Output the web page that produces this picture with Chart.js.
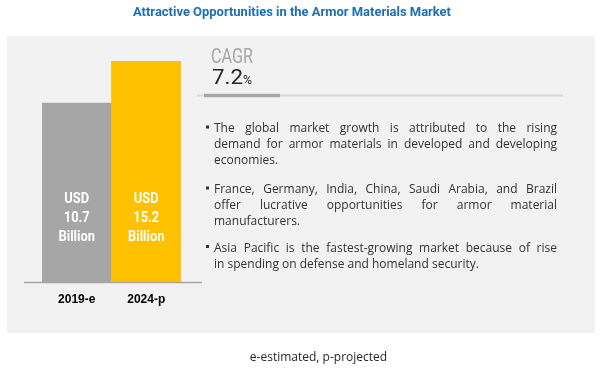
<!DOCTYPE html>
<html><head><meta charset="utf-8">
<script src="https://cdn.jsdelivr.net/npm/chart.js@4.4.0/dist/chart.umd.min.js"></script>
<style>html,body{margin:0;padding:0;background:#fff;}#wrap{width:601px;height:374px;position:relative;}</style>
</head><body><div id="wrap"><canvas id="c" width="601" height="374"></canvas></div>
<script>
// ---- data ----
const categories = ['2019-e', '2024-p'];
const marketValues = [10.7, 15.2];
const valueLabels = [['USD', '10.7', 'Billion'], ['USD', '15.2', 'Billion']];
const barColors = ['#a6a6a6', '#ffc000'];
const titleText = 'Attractive Opportunities in the Armor Materials Market';
const cagrLabel = 'CAGR';
const cagrValue = '7.2';
const cagrUnit = '%';
const bullets = [
  ['The global market growth is attributed to the rising', 'demand for armor materials in developed and developing', 'economies.'],
  ['France, Germany, India, China, Saudi Arabia, and Brazil', 'offer lucrative opportunities for armor material', 'manufacturers.'],
  ['Asia Pacific is the fastest-growing market because of rise', 'in spending on defense and homeland security.']
];
const footnote = 'e-estimated, p-projected';
const axisMin = -8.4;
const axisMax = 15.2;

function condText(ctx, text, x, y, font, color, targetW, align) {
  ctx.save();
  ctx.font = font; ctx.fillStyle = color; ctx.textBaseline = 'alphabetic'; ctx.textAlign = 'left';
  const mw = ctx.measureText(text).width;
  const sx = targetW ? targetW / mw : 1;
  const w = mw * sx;
  const x0 = align === 'center' ? x - w / 2 : (align === 'right' ? x - w : x);
  ctx.translate(x0, y); ctx.scale(sx, 1); ctx.fillText(text, 0, 0);
  ctx.restore();
  return w;
}

function justifyLine(ctx, line, x, y, width, justify) {
  if (!justify) { ctx.fillText(line, x, y); return; }
  const words = line.split(' ');
  const ws = words.map(w => ctx.measureText(w).width);
  const total = ws.reduce((a, b) => a + b, 0);
  const gap = (width - total) / (words.length - 1);
  let cx = x;
  words.forEach((w, i) => { ctx.fillText(w, cx, y); cx += ws[i] + gap; });
}

const decor = {
  id: 'decor',
  beforeDraw(chart) {
    const ctx = chart.ctx;
    ctx.save();
    ctx.fillStyle = '#ffffff'; ctx.fillRect(0, 0, chart.width, chart.height);
    ctx.fillStyle = '#f2f2f2'; ctx.fillRect(7, 36, 588, 297);
    ctx.restore();
    condText(ctx, titleText, 133, 16, 'bold 13px Roboto', '#1b6fb7', 318, 'left');
  },
  afterDatasetsDraw(chart) {
    const ctx = chart.ctx;
    const area = chart.chartArea;
    const meta = chart.getDatasetMeta(0);
    // bar value labels
    meta.data.forEach((bar, i) => {
      valueLabels[i].forEach((t, j) => {
        ctx.save(); ctx.font = 'bold 15px Roboto';
        const w = ctx.measureText(t).width * 0.86; ctx.restore();
        condText(ctx, t, bar.x, area.bottom - 79 + j * 18.8, 'bold 15px Roboto', '#ffffff', w, 'center');
      });
    });
    // baseline
    ctx.save();
    ctx.strokeStyle = '#a6a6a6'; ctx.lineWidth = 1.5;
    ctx.beginPath(); ctx.moveTo(area.left - 18, area.bottom + 0.5); ctx.lineTo(area.right + 21, area.bottom + 0.5); ctx.stroke();
    ctx.restore();
    // CAGR block
    condText(ctx, cagrLabel, 211, 63, '20px Roboto', '#a6a6a6', 42, 'left');
    const w72 = condText(ctx, cagrValue, 212, 84, '21px Roboto', '#262626', 31, 'left');
    condText(ctx, cagrUnit, 212 + w72, 84, '13px Roboto', '#262626', 9, 'left');
    ctx.save();
    ctx.lineCap = 'butt';
    ctx.strokeStyle = '#d9d9d9'; ctx.lineWidth = 2;
    ctx.beginPath(); ctx.moveTo(197, 95.5); ctx.lineTo(563, 95.5); ctx.stroke();
    ctx.strokeStyle = '#a6a6a6'; ctx.lineWidth = 3.5;
    ctx.beginPath(); ctx.moveTo(204, 95.5); ctx.lineTo(280, 95.5); ctx.stroke();
    ctx.restore();
    // bullets
    ctx.save();
    ctx.font = '12px "Open Sans"'; ctx.fillStyle = '#333333'; ctx.textBaseline = 'alphabetic'; ctx.textAlign = 'left';
    const starts = [132, 193, 251.5];
    bullets.forEach((para, p) => {
      para.forEach((line, k) => {
        const y = starts[p] + k * 16;
        justifyLine(ctx, line, 214, y, 343, k < para.length - 1);
      });
      ctx.fillRect(206, starts[p] - 6.5, 3, 3);
    });
    ctx.restore();
    // footnote
    ctx.save();
    ctx.font = '12px "Open Sans"'; ctx.fillStyle = '#262626'; ctx.textAlign = 'center'; ctx.textBaseline = 'alphabetic';
    ctx.fillText(footnote, 318.5, 361);
    ctx.restore();
  }
};

new Chart(document.getElementById('c'), {
  type: 'bar',
  data: {
    labels: categories,
    datasets: [{
      data: marketValues,
      backgroundColor: barColors,
      borderWidth: 0,
      base: axisMin,
      barPercentage: 1,
      categoryPercentage: 1
    }]
  },
  options: {
    responsive: false,
    devicePixelRatio: 1,
    animation: false,
    layout: { padding: { left: 42, right: 420, top: 61, bottom: 57.6 } },
    plugins: { legend: { display: false }, tooltip: { enabled: false }, title: { display: false } },
    scales: {
      x: {
        grid: { display: false, drawTicks: false },
        border: { display: false },
        ticks: { color: '#000000', padding: 10, font: { family: '"Liberation Sans"', size: 12, weight: 'bold' } }
      },
      y: { display: false, min: axisMin, max: axisMax }
    }
  },
  plugins: [decor]
});
</script>
</body></html>
